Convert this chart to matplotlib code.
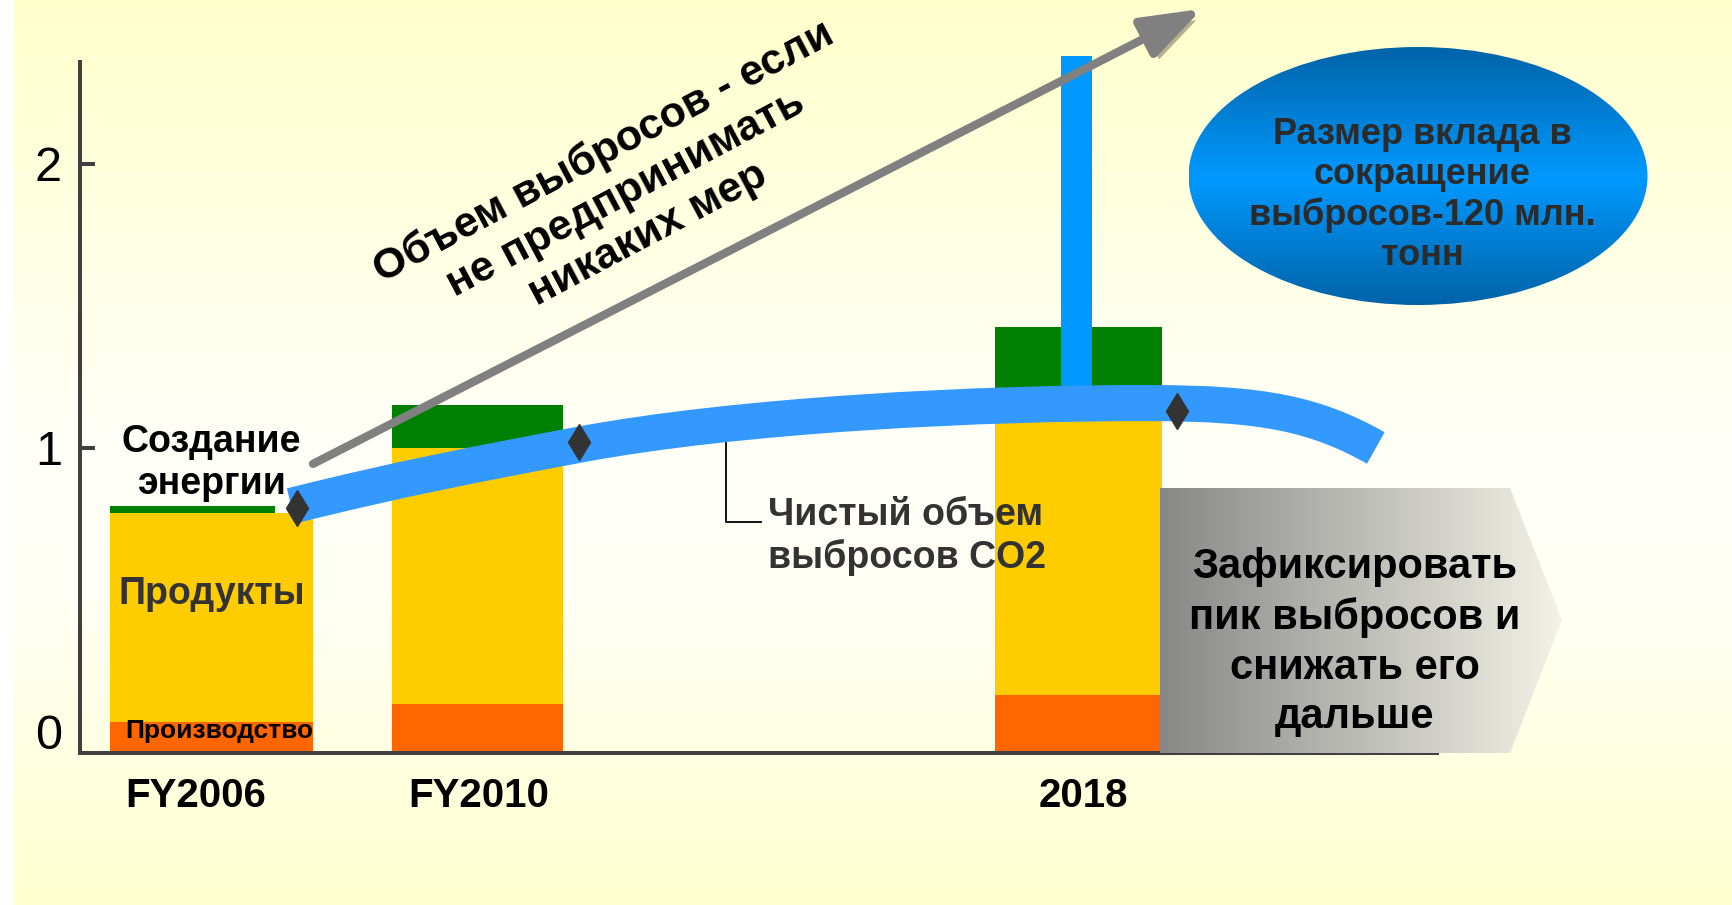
import numpy as np
import matplotlib.pyplot as plt
import matplotlib.patheffects as pe
from matplotlib.colors import LinearSegmentedColormap
from matplotlib.patches import Ellipse, Polygon, PathPatch, ArrowStyle
from matplotlib.path import Path

plt.rcParams['font.family'] = ['Liberation Sans', 'DejaVu Sans']

# %% Data (chart units, 1 = tick "1")
years = ["FY2006", "FY2010", "2018"]
production = [0.035, 0.10, 0.13]
products = [0.735, 0.90, 1.08]
energy = [0.025, 0.15, 0.215]
reduction_2018 = 1.17
net_co2 = [0.79, 1.02, 1.13]

# %% Layout
W, H = 1733, 905
bar_x = [0.0, 1.0, 3.26]
bar_w = [0.763, 0.643, 0.628]
energy_x = [-0.07, 1.0, 3.26]
energy_w = [0.62, 0.643, 0.628]
tick_x = [-0.058, 1.006, 3.276]
diamond_x = [0.32, 1.38, 3.63]
BASE = -0.074

c_prod = "#FF6600"
c_products = "#FFCC00"
c_energy = "#008000"
c_blue = "#0099FF"
c_band = "#3399FF"
c_dark = "#333333"

fig = plt.figure(figsize=(W / 100, H / 100), dpi=100, facecolor="white")

# background gradient
bg = fig.add_axes([0, 0, 1, 1])
bg_cmap = LinearSegmentedColormap.from_list(
    "bg", [(0, "#FFFFCC"), (0.5, "#FFFFF9"), (0.65, "#FFFFF6"), (1, "#FFFFD0")]
)
bg.imshow(np.linspace(0, 1, 256).reshape(-1, 1), cmap=bg_cmap, aspect="auto",
          extent=(14, W, H, 0))
bg.set_xlim(0, W)
bg.set_ylim(H, 0)
bg.axis("off")

# %% Main chart
ax = fig.add_axes([80 / W, (H - 753) / H, (1437 - 80) / W, (753 - 62) / H])
ax.patch.set_alpha(0)

prod_h = [p - BASE for p in production]
ax.bar(bar_x, prod_h, bar_w, bottom=BASE, color=c_prod, zorder=2)
ax.bar(bar_x, products, bar_w, bottom=production, color=c_products, zorder=2)
stack = [p + q for p, q in zip(production, products)]
ax.bar(energy_x, energy, energy_w, bottom=stack, color=c_energy, zorder=2)
ax.bar([3.252], [reduction_2018], 0.117, bottom=[stack[2]], color=c_blue,
       zorder=2.5, clip_on=False)

# net emissions band
band_verts = [(0.30, 0.796), (0.70, 0.89), (1.00, 0.944), (1.38, 1.011),
              (1.98, 1.117), (2.90, 1.160), (3.53, 1.158),
              (3.95, 1.158), (4.15, 1.12), (4.377, 1.0)]
band_codes = [Path.MOVETO] + [Path.CURVE4] * 9
band = PathPatch(Path(band_verts, band_codes), fill=False, edgecolor=c_band,
                 lw=26, capstyle="butt", joinstyle="round", zorder=5)
ax.add_patch(band)
ax.plot(diamond_x, net_co2, linestyle="none", marker="d", markersize=18,
        color=c_dark, zorder=6)

# "no measures" arrow
ann = ax.annotate("", xy=(3.724, 2.546), xytext=(0.382, 0.944),
                  annotation_clip=False, zorder=4,
                  arrowprops=dict(arrowstyle=ArrowStyle("-|>", head_length=0.4, head_width=0.14),
                                  mutation_scale=92, color="#808080", lw=6,
                                  shrinkA=0, shrinkB=0))
ann.arrow_patch.set_path_effects([
    pe.SimplePatchShadow(offset=(4, -4), shadow_rgbFace="black", alpha=0.3),
    pe.Normal(),
])
ax.text(1.558, 1.898, "Объем выбросов - если\nне предпринимать\nникаких мер",
        rotation=28, rotation_mode="anchor", ha="center", va="center",
        multialignment="center", fontsize=31, fontweight="bold", color="black",
        linespacing=1.2, zorder=7)

# labels in the chart
ax.text(0.0, 0.947, "Создание\nэнергии", ha="center", va="center",
        fontsize=27, fontweight="bold", color="black", linespacing=1.2, zorder=7)
ax.text(0.0, 0.485, "Продукты", ha="center", va="center",
        fontsize=27, fontweight="bold", color=c_dark, zorder=7)
ax.text(-0.325, 0.005, "Производство", ha="left", va="center",
        fontsize=19, fontweight="bold", color="black", zorder=7)

ax.plot([1.934, 1.934, 2.066], [1.028, 0.739, 0.739], color="black", lw=1.3, zorder=3)
ax.text(2.092, 0.688, "Чистый объем\nвыбросов CO2", ha="left", va="center",
        fontsize=27, fontweight="bold", color=c_dark, linespacing=1.2, zorder=7)

# axes styling
ax.set_xlim(-0.494, 4.607)
ax.set_ylim(BASE, 2.359)
for s in ["top", "right"]:
    ax.spines[s].set_visible(False)
for s in ["left", "bottom"]:
    ax.spines[s].set_color("#404040")
    ax.spines[s].set_linewidth(2.9)
ax.set_yticks([0, 1, 2])
ax.set_yticklabels(["0", "1", "2"])
ax.tick_params(axis="y", direction="in", length=10.8, width=2.9, color="#404040",
               labelsize=35, pad=13)
ax.yaxis.get_major_ticks()[0].tick1line.set_visible(False)
ax.set_xticks(tick_x)
ax.set_xticklabels(years, fontweight="bold")
ax.tick_params(axis="x", length=0, labelsize=29, pad=17)

# %% Decorations in pixel space
deco = fig.add_axes([0, 0, 1, 1])
deco.patch.set_alpha(0)

ell = Ellipse((1418, 176), 459, 258, facecolor="none", edgecolor="none")
deco.add_patch(ell)
ell_cmap = LinearSegmentedColormap.from_list(
    "ell", [(0, "#0063A8"), (0.51, "#0099FF"), (1, "#0063A8")]
)
im = deco.imshow(np.linspace(0, 1, 256).reshape(-1, 1), cmap=ell_cmap, aspect="auto",
                 extent=(1189, 1648, 305, 47))
im.set_clip_path(ell)
deco.text(1422, 195, "Размер вклада в\nсокращение\nвыбросов-120 млн.\nтонн",
          ha="center", va="center", multialignment="center", fontsize=26,
          fontweight="bold", color="#2B2B2B", linespacing=1.18)

pent = Polygon([(1160, 488), (1510, 488), (1562, 620), (1510, 753), (1160, 753)],
               facecolor="none", edgecolor="none")
deco.add_patch(pent)
gray_cmap = LinearSegmentedColormap.from_list("gr", ["#878787", "#BDBDB8", "#F2F2E6"])
im2 = deco.imshow(np.linspace(0, 1, 256).reshape(1, -1), cmap=gray_cmap, aspect="auto",
                  extent=(1160, 1562, 753, 488))
im2.set_clip_path(pent)
deco.text(1355, 642, "Зафиксировать\nпик выбросов и\nснижать его\nдальше",
          ha="center", va="center", multialignment="center", fontsize=30,
          fontweight="bold", color="black", linespacing=1.32)

deco.set_xlim(0, W)
deco.set_ylim(H, 0)
deco.axis("off")

fig.savefig("out.png", dpi=100)
